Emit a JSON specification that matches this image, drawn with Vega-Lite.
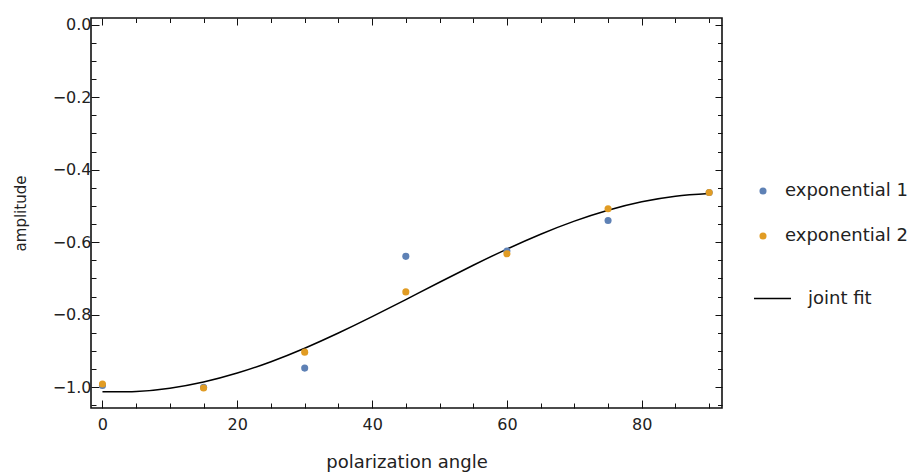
{
  "$schema": "https://vega.github.io/schema/vega-lite/v6.json",
  "width": 631,
  "height": 390,
  "autosize": {"type": "none"},
  "padding": {"left": 91, "top": 18, "right": 194, "bottom": 64},
  "background": "white",
  "config": {
    "view": {"stroke": "#111", "strokeWidth": 1.6},
    "font": "DejaVu Sans",
    "axis": {"labelFont": "DejaVu Sans", "titleFont": "DejaVu Sans", "labelColor": "#222", "titleColor": "#222", "titleFontWeight": "normal", "tickColor": "#111", "tickWidth": 1, "grid": false, "domain": false},
    "legend": {"labelFont": "DejaVu Sans", "labelFontSize": 18, "labelColor": "#222", "padding": 0}
  },
  "datasets": {
    "points": [
      {"angle": 0, "amplitude": -0.995, "series": "exponential 1"},
      {"angle": 15, "amplitude": -1.0, "series": "exponential 1"},
      {"angle": 30, "amplitude": -0.947, "series": "exponential 1"},
      {"angle": 45, "amplitude": -0.639, "series": "exponential 1"},
      {"angle": 60, "amplitude": -0.624, "series": "exponential 1"},
      {"angle": 75, "amplitude": -0.54, "series": "exponential 1"},
      {"angle": 90, "amplitude": -0.463, "series": "exponential 1"},
      {"angle": 0, "amplitude": -0.991, "series": "exponential 2"},
      {"angle": 15, "amplitude": -1.002, "series": "exponential 2"},
      {"angle": 30, "amplitude": -0.903, "series": "exponential 2"},
      {"angle": 45, "amplitude": -0.737, "series": "exponential 2"},
      {"angle": 60, "amplitude": -0.632, "series": "exponential 2"},
      {"angle": 75, "amplitude": -0.508, "series": "exponential 2"},
      {"angle": 90, "amplitude": -0.463, "series": "exponential 2"}
    ],
    "fit": [
      {"angle": 0, "amplitude": -1.0123, "series": "joint fit"},
      {"angle": 5, "amplitude": -1.0115, "series": "joint fit"},
      {"angle": 10, "amplitude": -1.0024, "series": "joint fit"},
      {"angle": 15, "amplitude": -0.9853, "series": "joint fit"},
      {"angle": 20, "amplitude": -0.9607, "series": "joint fit"},
      {"angle": 25, "amplitude": -0.9293, "series": "joint fit"},
      {"angle": 30, "amplitude": -0.8922, "series": "joint fit"},
      {"angle": 35, "amplitude": -0.8504, "series": "joint fit"},
      {"angle": 40, "amplitude": -0.8053, "series": "joint fit"},
      {"angle": 45, "amplitude": -0.7581, "series": "joint fit"},
      {"angle": 50, "amplitude": -0.7104, "series": "joint fit"},
      {"angle": 55, "amplitude": -0.6635, "series": "joint fit"},
      {"angle": 60, "amplitude": -0.6189, "series": "joint fit"},
      {"angle": 65, "amplitude": -0.5779, "series": "joint fit"},
      {"angle": 70, "amplitude": -0.5419, "series": "joint fit"},
      {"angle": 75, "amplitude": -0.5118, "series": "joint fit"},
      {"angle": 80, "amplitude": -0.4887, "series": "joint fit"},
      {"angle": 85, "amplitude": -0.4731, "series": "joint fit"},
      {"angle": 90, "amplitude": -0.4657, "series": "joint fit"}
    ]
  },
  "layer": [
    {
      "data": {"name": "fit"},
      "mark": {"type": "line", "strokeWidth": 1.5, "interpolate": "natural"},
      "encoding": {
        "x": {"field": "angle", "type": "quantitative", "scale": {"domain": [-1.7, 91.9], "nice": false, "zero": false},
          "axis": {"orient": "top", "title": null, "labels": false, "values": [0,5,10,15,20,25,30,35,40,45,50,55,60,65,70,75,80,85,90],
            "tickSize": {"condition": {"test": "datum.value % 20 === 0", "value": -7}, "value": -4.5}}},
        "y": {"field": "amplitude", "type": "quantitative", "scale": {"domain": [-1.057, 0.018], "nice": false, "zero": false},
          "axis": {"orient": "right", "title": null, "labels": false, "values": [0,-0.05,-0.1,-0.15,-0.2,-0.25,-0.3,-0.35,-0.4,-0.45,-0.5,-0.55,-0.6,-0.65,-0.7,-0.75,-0.8,-0.85,-0.9,-0.95,-1.0,-1.05],
            "tickSize": {"condition": {"test": "abs(round(datum.value*100)) % 20 === 0", "value": -7}, "value": -4.5}}},
        "color": {"field": "series", "type": "nominal", "scale": {"domain": ["joint fit"], "range": ["#000000"]},
          "legend": {"title": null, "orient": "none", "legendX": 662, "legendY": 261, "symbolType": "stroke", "symbolSize": 1369, "symbolStrokeWidth": 1.5, "labelOffset": 16}}
      }
    },
    {
      "data": {"name": "points"},
      "mark": {"type": "point", "filled": true, "size": 50, "opacity": 1},
      "encoding": {
        "x": {"field": "angle", "type": "quantitative", "title": "polarization angle",
          "axis": {"orient": "bottom", "values": [0,5,10,15,20,25,30,35,40,45,50,55,60,65,70,75,80,85,90],
            "labelExpr": "datum.value % 20 === 0 ? format(datum.value, 'd') : ''",
            "tickSize": {"condition": {"test": "datum.value % 20 === 0", "value": -8}, "value": -5},
            "labelPadding": 16, "labelFontSize": 16, "titleFontSize": 18, "titlePadding": 21}},
        "y": {"field": "amplitude", "type": "quantitative", "title": "amplitude",
          "axis": {"orient": "left", "values": [0,-0.05,-0.1,-0.15,-0.2,-0.25,-0.3,-0.35,-0.4,-0.45,-0.5,-0.55,-0.6,-0.65,-0.7,-0.75,-0.8,-0.85,-0.9,-0.95,-1.0,-1.05],
            "labelExpr": "abs(round(datum.value*100)) % 20 === 0 ? format(datum.value, '.1f') : ''",
            "tickSize": {"condition": {"test": "abs(round(datum.value*100)) % 20 === 0", "value": -8}, "value": -5},
            "labelPadding": 8, "labelFontSize": 16, "titleFontSize": 15, "titlePadding": 24}},
        "color": {"field": "series", "type": "nominal", "scale": {"domain": ["exponential 1", "exponential 2"], "range": ["#5E81B5", "#E19C24"]},
          "legend": {"title": null, "orient": "none", "legendX": 663, "legendY": 164, "symbolType": "circle", "symbolSize": 50, "rowPadding": 27, "labelOffset": 13, "symbolStrokeWidth": 0}}
      }
    }
  ],
  "resolve": {"axis": {"x": "independent", "y": "independent"}, "scale": {"color": "independent"}}
}
